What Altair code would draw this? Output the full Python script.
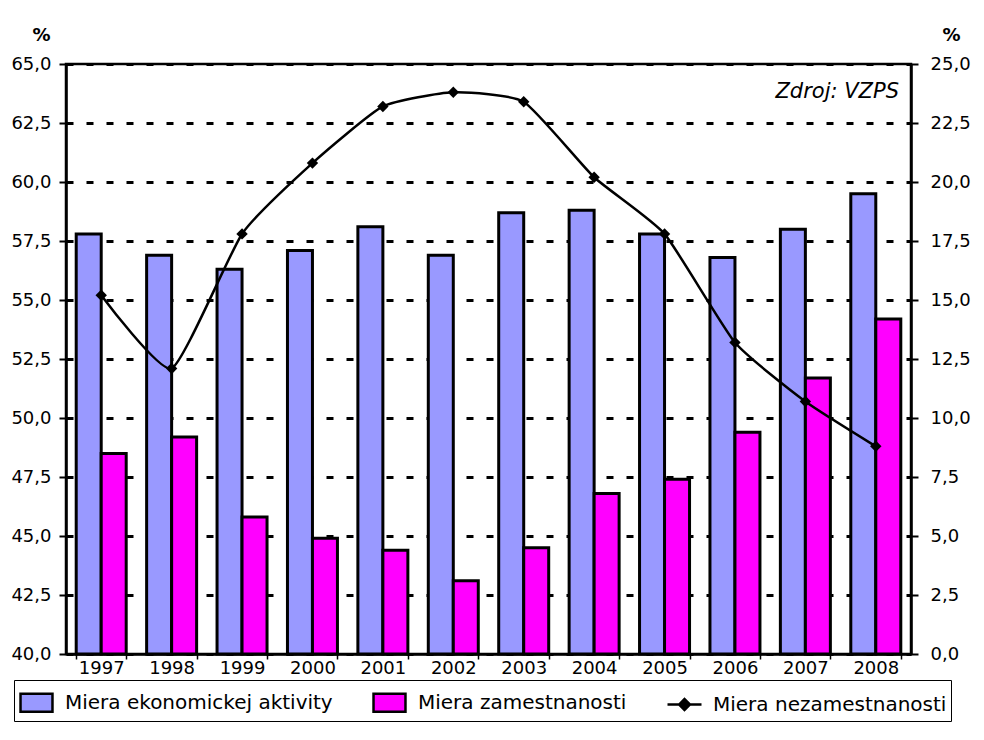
import altair as alt
import pandas as pd

FONT = "DejaVu Sans"

years = ["1997", "1998", "1999", "2000", "2001", "2002",
         "2003", "2004", "2005", "2006", "2007", "2008"]
aktivita = [57.8, 56.9, 56.3, 57.1, 58.1, 56.9, 58.7, 58.8, 57.8, 56.8, 58.0, 59.5]
zamestnanost = [48.5, 49.2, 45.8, 44.9, 44.4, 43.1, 44.5, 46.8, 47.4, 49.4, 51.7, 54.2]
nezamestnanost = [15.2, 12.1, 17.8, 20.8, 23.2, 23.8, 23.4, 20.2, 17.8, 13.2, 10.7, 8.8]

series_names = ["Miera ekonomickej aktivity", "Miera zamestnanosti", "Miera nezamestnanosti"]
series_colors = ["#9999FF", "#FF00FF", "#000000"]

left_ticks = [40.0, 42.5, 45.0, 47.5, 50.0, 52.5, 55.0, 57.5, 60.0, 62.5, 65.0]
right_ticks = [0.0, 2.5, 5.0, 7.5, 10.0, 12.5, 15.0, 17.5, 20.0, 22.5, 25.0]
source_note = "Zdroj: VZPS"

bar_df = pd.DataFrame({
    "year": years * 2,
    "series": [series_names[0]] * len(years) + [series_names[1]] * len(years),
    "value": aktivita + zamestnanost,
})
line_df = pd.DataFrame({"year": years, "series": series_names[2], "value": nezamestnanost})
note_df = pd.DataFrame({"note": [source_note]})

W, H = 845, 590
comma_fmt = "replace(format(datum.value, '.1f'), '.', ',')"

RECT_PATH = "M-0.94,-0.53H0.94V0.53H-0.94Z"
LINE_DIAMOND_PATH = "M-1,0H1M-0.32,0L0,-0.32L0.32,0L0,0.32Z"


def make_legend():
    return alt.Legend(
        title=None, orient="none", legendX=-52, legendY=616,
        direction="horizontal", columns=3,
        strokeColor="black", padding=4, columnPadding=35,
        labelFont=FONT, labelFontSize=20, labelColor="black", labelOffset=10,
        labelLimit=500,
        symbolSize=1156, symbolStrokeWidth=2.5, symbolOpacity=1,
    )


x_axis = alt.Axis(
    title=None, labelAngle=0, labelFont=FONT, labelFontSize=18, labelColor="black",
    labelPadding=0, tickBand="extent", tickColor="black", tickSize=5, tickWidth=1.5,
    domainColor="black", domainWidth=2.5, grid=False,
)

left_axis = alt.Axis(
    values=left_ticks, labelExpr=comma_fmt, labelFont=FONT, labelFontSize=18,
    labelColor="black", labelPadding=8, tickColor="black", tickSize=7, tickWidth=2,
    domainColor="black", domainWidth=2.5,
    grid=True, gridColor="black", gridDash=[7, 13], gridWidth=3,
    title="%", titleAngle=0, titleFont=FONT, titleFontSize=18, titleFontWeight="bold",
    titleColor="black", titleAlign="center", titleBaseline="middle",
    titleX=-25, titleY=-29,
)

right_axis = alt.Axis(
    values=right_ticks, labelExpr=comma_fmt, labelFont=FONT, labelFontSize=18,
    labelColor="black", labelPadding=12, tickColor="black", tickSize=7, tickWidth=2,
    domainColor="black", domainWidth=2.5, grid=False, orient="right",
    title="%", titleAngle=0, titleFont=FONT, titleFontSize=18, titleFontWeight="bold",
    titleColor="black", titleAlign="center", titleBaseline="middle",
    titleX=40, titleY=-29,
)

bars = alt.Chart(bar_df).mark_bar(stroke="black", strokeWidth=3).encode(
    x=alt.X("year:N", sort=years,
            scale=alt.Scale(paddingInner=0.29, paddingOuter=0.145), axis=x_axis),
    xOffset=alt.XOffset("series:N", sort=series_names[:2],
                        scale=alt.Scale(paddingInner=0, paddingOuter=0)),
    y=alt.Y("value:Q", scale=alt.Scale(domain=[40, 65], nice=False, zero=False),
            axis=left_axis),
    y2=alt.datum(40),
    fill=alt.Fill("series:N", scale=alt.Scale(domain=series_names, range=series_colors),
                  legend=make_legend()),
)

line = alt.Chart(line_df).mark_line(
    color="black", strokeWidth=2.5, interpolate="cardinal", tension=0.5,
    point=alt.OverlayMarkDef(shape="diamond", size=130, filled=True, color="black"),
).encode(
    x=alt.X("year:N", sort=years),
    y=alt.Y("value:Q", scale=alt.Scale(domain=[0, 25], nice=False, zero=False),
            axis=right_axis),
)

# legend-only layer: supplies the per-entry legend symbol shapes, draws nothing
legend_points = alt.Chart(line_df).transform_filter("false").mark_point(
    filled=True, fill="black", stroke="black", strokeWidth=2.5, opacity=1,
).encode(
    x=alt.X("year:N", sort=years),
    y=alt.Y("value:Q"),
    shape=alt.Shape("series:N",
                    scale=alt.Scale(domain=series_names,
                                    range=[RECT_PATH, RECT_PATH, LINE_DIAMOND_PATH]),
                    legend=make_legend()),
)

note = alt.Chart(note_df).mark_text(
    align="right", baseline="alphabetic", font=FONT, fontSize=21,
    fontStyle="italic", color="black",
).encode(x=alt.value(W - 12), y=alt.value(34), text="note:N")

chart = (
    alt.layer(bars, alt.layer(line, legend_points), note)
    .resolve_scale(y="independent")
    .properties(
        width=W, height=H,
        autosize=alt.AutoSizeParams(type="none"),
        padding={"left": 58, "top": 56, "right": 64, "bottom": 70},
        background="white",
    )
    .configure_view(stroke="black", strokeWidth=2.5)
)

chart.save("out.html", embed_options={"renderer": "svg", "actions": False})
